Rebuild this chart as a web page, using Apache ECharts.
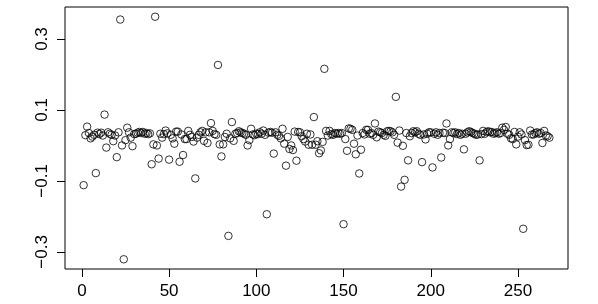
<!DOCTYPE html>
<html>
<head>
<meta charset="utf-8">
<script src="https://cdn.jsdelivr.net/npm/echarts@6/dist/echarts.min.js"></script>
<style>
  html, body { margin: 0; padding: 0; background: #fff; }
  #chart { width: 598px; height: 304px; }
</style>
</head>
<body>
<div id="chart"></div>
<script>
// values, index order 1..n
const values = [
  -0.112, 0.029, 0.053, 0.035, 0.020, 0.025, 0.030, -0.078, 0.036, 0.032,
  0.036, 0.028, 0.087, -0.006, 0.037, 0.033, 0.030, 0.012, 0.028, -0.033,
  0.037, 0.355, 0.000, -0.321, 0.015, 0.050, 0.037, 0.022, -0.002, 0.032,
  0.033, 0.036, 0.038, 0.035, 0.038, 0.033, 0.035, 0.032, 0.034,
  -0.053, 0.003, 0.363, 0.000, -0.037, 0.033, 0.022, 0.032, 0.042, 0.034,
  -0.040, 0.030, 0.020, 0.005, 0.039, 0.039, -0.046, 0.031, -0.027, 0.018,
  0.018, 0.041, 0.030, 0.024, 0.011, -0.093, 0.022, 0.030, 0.037, 0.041,
  0.013, 0.037, 0.007, 0.037, 0.063, 0.041, 0.032, 0.030, 0.227, 0.003,
  -0.031, 0.003, 0.024, 0.033, -0.255, 0.020, 0.066, 0.013, 0.033,
  0.035, 0.040, 0.037, 0.035, 0.033, 0.030, 0.000, 0.015, 0.047, 0.031,
  0.029, 0.033, 0.032, 0.037, 0.033, 0.042, 0.030, -0.194, 0.036, 0.038,
  0.036, -0.023, 0.037, 0.030, 0.027, 0.020, 0.047, 0.005, -0.057, 0.024,
  -0.010, 0.000, -0.013, 0.039, -0.043, 0.038, 0.037, 0.026, 0.018, 0.011,
  0.033, 0.002, 0.031, 0.002, 0.080, 0.002, 0.012, -0.022, -0.014, 0.010,
  0.216, 0.041, 0.028, 0.041, 0.032, 0.030, 0.035, 0.033, 0.035, 0.033,
  0.035, -0.222, 0.018, -0.015, 0.048, 0.047, 0.044, 0.005, -0.025, 0.028,
  -0.079, -0.012, 0.035, 0.031, 0.044, 0.044, 0.033, 0.035, 0.030, 0.062,
  0.023, 0.039, 0.037, 0.035, 0.030, 0.027, 0.040, 0.041, 0.040, 0.037,
  0.030, 0.137, 0.008, 0.042, -0.116, -0.001, -0.097, 0.035, -0.042, 0.026,
  0.035, 0.040, 0.037, 0.040, 0.033, 0.030, -0.047, 0.031, 0.017, 0.033,
  0.037, 0.037, -0.062, 0.033, 0.037, 0.030, 0.035, -0.034, 0.036, 0.035,
  0.062, 0.000, 0.018, 0.037, 0.035, 0.037, 0.032, 0.035, 0.030, 0.033,
  -0.011, 0.033, 0.037, 0.040, 0.038, 0.035, 0.033, 0.030, 0.031, -0.042,
  0.032, 0.041, 0.033, 0.038, 0.040, 0.037, 0.038, 0.033, 0.035, 0.037,
  0.033, 0.035, 0.050, 0.044, 0.052, 0.033, 0.030, 0.020, 0.018, 0.038,
  0.003, 0.025, 0.037, 0.031, -0.235, 0.015, 0.001, 0.002, 0.042, 0.031,
  0.031, 0.035, 0.037, 0.033, 0.035, 0.007, 0.041, 0.028, 0.026, 0.022
]
const xTicks = [0, 50, 100, 150, 200, 250]
const yTicks = [-0.3, -0.1, 0.1, 0.3]

// R style 4% axis extension
const n = values.length
const xPad = (n - 1) * 0.04
const yMinData = Math.min(...values)
const yMaxData = Math.max(...values)
const yPad = (yMaxData - yMinData) * 0.04

const points = values.map((v, i) => [i + 1, v])

const chart = echarts.init(document.getElementById('chart'), null, { renderer: 'canvas' })
const font = 'Liberation Sans, Arial, Helvetica, sans-serif'

chart.setOption({
  animation: false,
  grid: {
    left: 65,
    right: 30,
    top: 7,
    bottom: 35,
    show: true,
    borderColor: '#000',
    borderWidth: 1,
    backgroundColor: 'transparent'
  },
  xAxis: {
    type: 'value',
    min: 1 - xPad,
    max: n + xPad,
    axisLine: { show: false, onZero: false },
    splitLine: { show: false },
    axisTick: { show: true, length: 8, customValues: xTicks, lineStyle: { color: '#000' } },
    axisLabel: {
      customValues: xTicks,
      color: '#000',
      fontSize: 17,
      fontFamily: font,
      margin: 14
    }
  },
  yAxis: {
    type: 'value',
    min: yMinData - yPad,
    max: yMaxData + yPad,
    axisLine: { show: false, onZero: false },
    splitLine: { show: false },
    axisTick: { show: true, length: 8, customValues: yTicks, lineStyle: { color: '#000' } },
    axisLabel: {
      customValues: yTicks,
      color: '#000',
      fontSize: 17,
      fontFamily: font,
      rotate: 90,
      margin: 14,
      formatter: v => (v < 0 ? '\u2212' + Math.abs(v).toFixed(1) : v.toFixed(1))
    }
  },
  series: [{
    type: 'scatter',
    data: points,
    symbol: 'circle',
    symbolSize: 7.5,
    itemStyle: {
      color: 'transparent',
      borderColor: '#000',
      borderWidth: 1
    }
  }]
})
</script>
</body>
</html>
